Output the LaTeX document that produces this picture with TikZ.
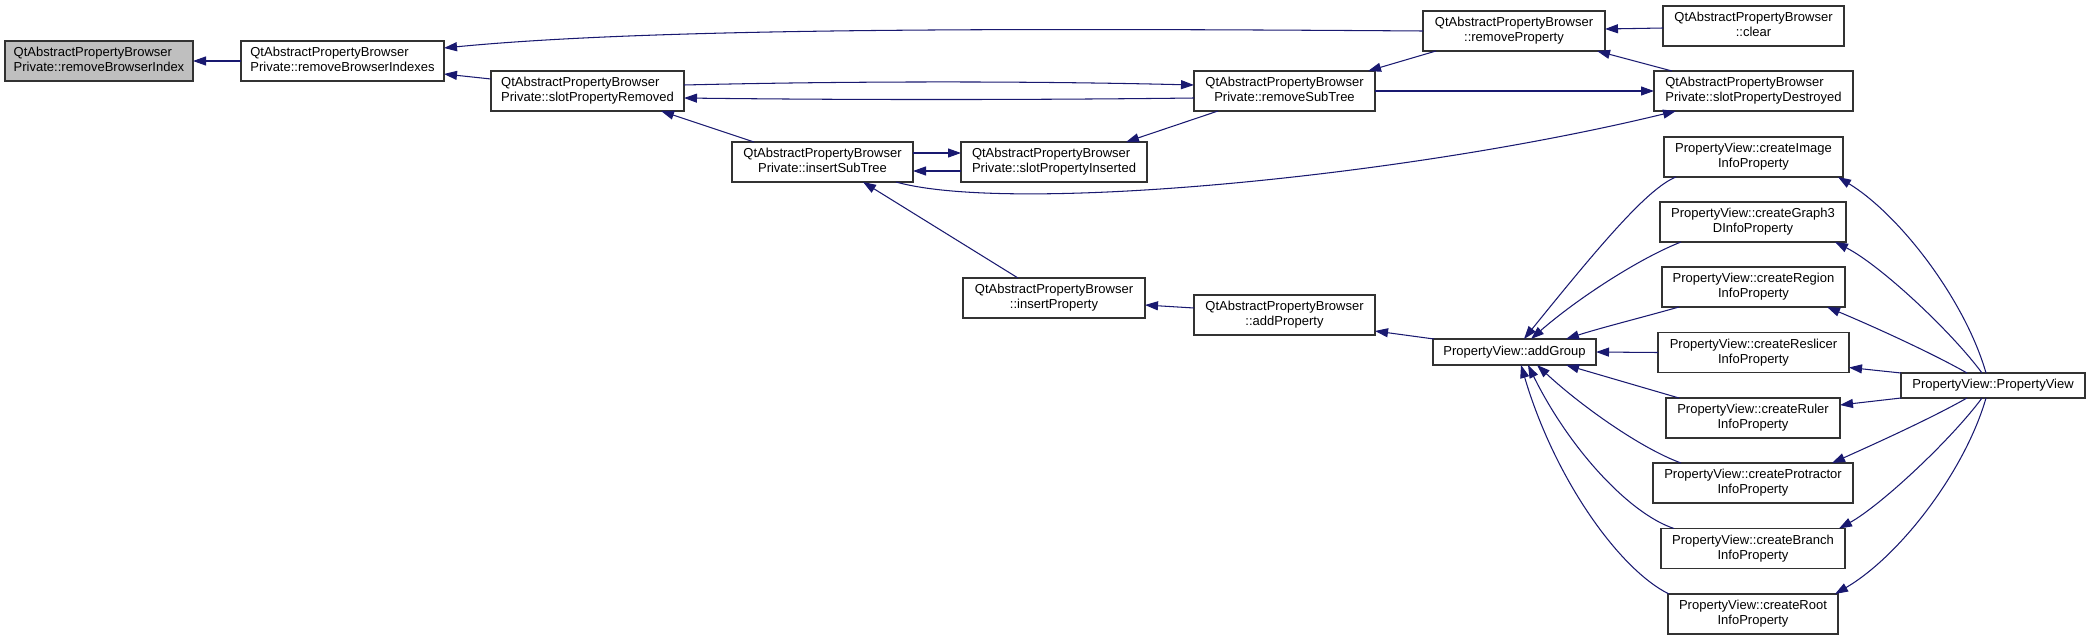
\documentclass[tikz,border=0pt]{standalone}
\usepackage{fontspec}
\setmainfont{Liberation Sans}
\usetikzlibrary{arrows.meta,calc}
\definecolor{edgeblue}{RGB}{25,25,112}
\definecolor{rootgray}{RGB}{191,191,191}
\definecolor{boxline}{RGB}{50,50,50}
\newcommand\twoC[2]{\begin{tabular}{@{}c@{}}#1\\#2\end{tabular}}
\newcommand\twoL[2]{\begin{tabular}{@{}l@{}}#1\\#2\end{tabular}}
\begin{document}
\begin{tikzpicture}[x=1pt,y=-1pt,
  nbox/.style={draw=boxline, line width=1.1pt, fill=white, inner sep=0pt, outer sep=0pt,
    font=\fontsize{13}{15}\selectfont, minimum height=40pt},
  edge/.style={draw=edgeblue, line width=1.05pt, -{Triangle[length=13pt,width=9pt]}}
]
\useasboundingbox (0,0) rectangle (2091,640);

% nodes
\node[nbox, fill=rootgray, minimum width=188pt] (rbi) at (99,61) {\twoL{QtAbstractPropertyBrowser}{Private::removeBrowserIndex}};
\node[nbox, minimum width=203pt] (rbis) at (342.5,61) {\twoL{QtAbstractPropertyBrowser}{Private::removeBrowserIndexes}};
\node[nbox, minimum width=193pt] (spr) at (587.5,91) {\twoL{QtAbstractPropertyBrowser}{Private::slotPropertyRemoved}};
\node[nbox, minimum width=181pt] (ist) at (822.5,162) {\twoC{QtAbstractPropertyBrowser}{Private::insertSubTree}};
\node[nbox, minimum width=186pt] (spi) at (1054,162) {\twoL{QtAbstractPropertyBrowser}{Private::slotPropertyInserted}};
\node[nbox, minimum width=181pt] (rst) at (1284.5,91) {\twoC{QtAbstractPropertyBrowser}{Private::removeSubTree}};
\node[nbox, minimum width=182pt] (rp) at (1514,31) {\twoC{QtAbstractPropertyBrowser}{::removeProperty}};
\node[nbox, minimum width=181pt] (clr) at (1753.5,26) {\twoC{QtAbstractPropertyBrowser}{::clear}};
\node[nbox, minimum width=199pt] (spd) at (1753.5,91) {\twoL{QtAbstractPropertyBrowser}{Private::slotPropertyDestroyed}};
\node[nbox, minimum width=182pt] (ip) at (1054,298) {\twoC{QtAbstractPropertyBrowser}{::insertProperty}};
\node[nbox, minimum width=181pt] (ap) at (1284.5,315) {\twoC{QtAbstractPropertyBrowser}{::addProperty}};
\node[nbox, minimum width=163pt, minimum height=26pt] (ag) at (1514.5,352) {PropertyView::addGroup};
\node[nbox, minimum width=179pt] (cImg) at (1753.5,157) {\twoC{PropertyView::createImage}{InfoProperty}};
\node[nbox, minimum width=186pt] (cG3) at (1753,222) {\twoC{PropertyView::createGraph3}{DInfoProperty}};
\node[nbox, minimum width=183pt] (cReg) at (1753.5,287) {\twoC{PropertyView::createRegion}{InfoProperty}};
\node[nbox, minimum width=191pt] (cRes) at (1753.5,352.5) {\twoC{PropertyView::createReslicer}{InfoProperty}};
\node[nbox, minimum width=174pt] (cRul) at (1753,418) {\twoC{PropertyView::createRuler}{InfoProperty}};
\node[nbox, minimum width=200pt] (cPro) at (1753,483) {\twoC{PropertyView::createProtractor}{InfoProperty}};
\node[nbox, minimum width=184pt] (cBr) at (1753,548.5) {\twoC{PropertyView::createBranch}{InfoProperty}};
\node[nbox, minimum width=170pt] (cRoot) at (1753,614) {\twoC{PropertyView::createRoot}{InfoProperty}};
\node[nbox, minimum width=184pt, minimum height=25pt] (pv) at (1993,385.5) {PropertyView::PropertyView};

% edges
\draw[edge] (rbis.west) -- (rbi.east);
\draw[edge] (rp.west) .. controls (1000,28) and (650,28) .. ($(rbis.north east)+(0,7)$);
\draw[edge] ($(spr.north west)+(0,8)$) -- ($(rbis.south east)+(0,-7)$);
\draw[edge] ($(spr.east)+(0,-6)$) .. controls (850,81) and (1030,81) .. ($(rst.west)+(0,-6)$);
\draw[edge] ($(rst.west)+(0,7)$) .. controls (1030,100) and (850,100) .. ($(spr.east)+(0,7)$);
\draw[edge] ($(ist.north west)+(22,0)$) -- ($(spr.south west)+(170,0)$);
\draw[edge] ($(rp.south west)+(13,0)$) -- ($(rst.north east)+(-7,0)$);
\draw[edge] ($(rst.south west)+(24,0)$) -- ($(spi.north east)+(-21,0)$);
\draw[edge] ($(ist.east)+(0,-9)$) -- ($(spi.west)+(0,-9)$);
\draw[edge] ($(spi.west)+(0,9)$) -- ($(ist.east)+(0,9)$);
\draw[edge] (rst.east) -- (spd.west);
\draw[edge] ($(clr.west)+(0,2)$) -- ($(rp.east)+(0,-2)$);
\draw[edge] ($(spd.north west)+(18,0)$) -- ($(rp.south east)+(-8,0)$);
\draw[edge] ($(ist.south west)+(164,0)$) .. controls (1010,214) and (1400,178) .. ($(spd.south west)+(22,0)$);
\draw[edge] ($(ip.north west)+(55,0)$) -- ($(ist.south west)+(131,0)$);
\draw[edge] ($(ap.north west)+(0,13)$) -- ($(ip.north east)+(0,27)$);
\draw[edge] ($(ag.north west)+(1,0)$) -- ($(ap.south east)+(0,-4)$);

\draw[edge] ($(cImg.south west)+(12,0)$) .. controls (1648,188) and (1600,245) .. ($(ag.north west)+(91,0)$);
\draw[edge] ($(cG3.south west)+(21,0)$) .. controls (1640,258) and (1578,298) .. ($(ag.north west)+(98,0)$);
\draw[edge] ($(cReg.south west)+(17,0)$) .. controls (1640,318) and (1600,328) .. ($(ag.north east)+(-30,0)$);
\draw[edge] (cRes.west) -- (ag.east);
\draw[edge] ($(cRul.north west)+(13,0)$) -- ($(ag.south east)+(-30,0)$);
\draw[edge] ($(cPro.north west)+(28,0)$) .. controls (1640,448) and (1580,405) .. ($(ag.south west)+(104,0)$);
\draw[edge] ($(cBr.north west)+(13,0)$) .. controls (1630,514) and (1570,450) .. ($(ag.south west)+(95,0)$);
\draw[edge] ($(cRoot.north west)+(1,0)$) .. controls (1620,570) and (1555,480) .. ($(ag.south west)+(88,0)$);

\draw[edge] ($(pv.north west)+(85,0)$) .. controls (1965,300) and (1900,215) .. ($(cImg.south east)+(-5,0)$);
\draw[edge] ($(pv.north west)+(81,0)$) .. controls (1950,330) and (1880,265) .. ($(cG3.south east)+(-11,0)$);
\draw[edge] ($(pv.north west)+(66,0)$) .. controls (1930,352) and (1870,325) .. ($(cReg.south east)+(-18,0)$);
\draw[edge] (pv.north west) -- ($(cRes.south east)+(0,-5)$);
\draw[edge] (pv.south west) -- ($(cRul.east)+(0,-13)$);
\draw[edge] ($(pv.south west)+(66,0)$) .. controls (1930,419) and (1870,446) .. ($(cPro.north east)+(-21,0)$);
\draw[edge] ($(pv.south west)+(81,0)$) .. controls (1950,441) and (1880,506) .. ($(cBr.north east)+(-6,0)$);
\draw[edge] ($(pv.south west)+(85,0)$) .. controls (1965,471) and (1900,556) .. ($(cRoot.north east)+(-3,0)$);
\end{tikzpicture}
\end{document}
